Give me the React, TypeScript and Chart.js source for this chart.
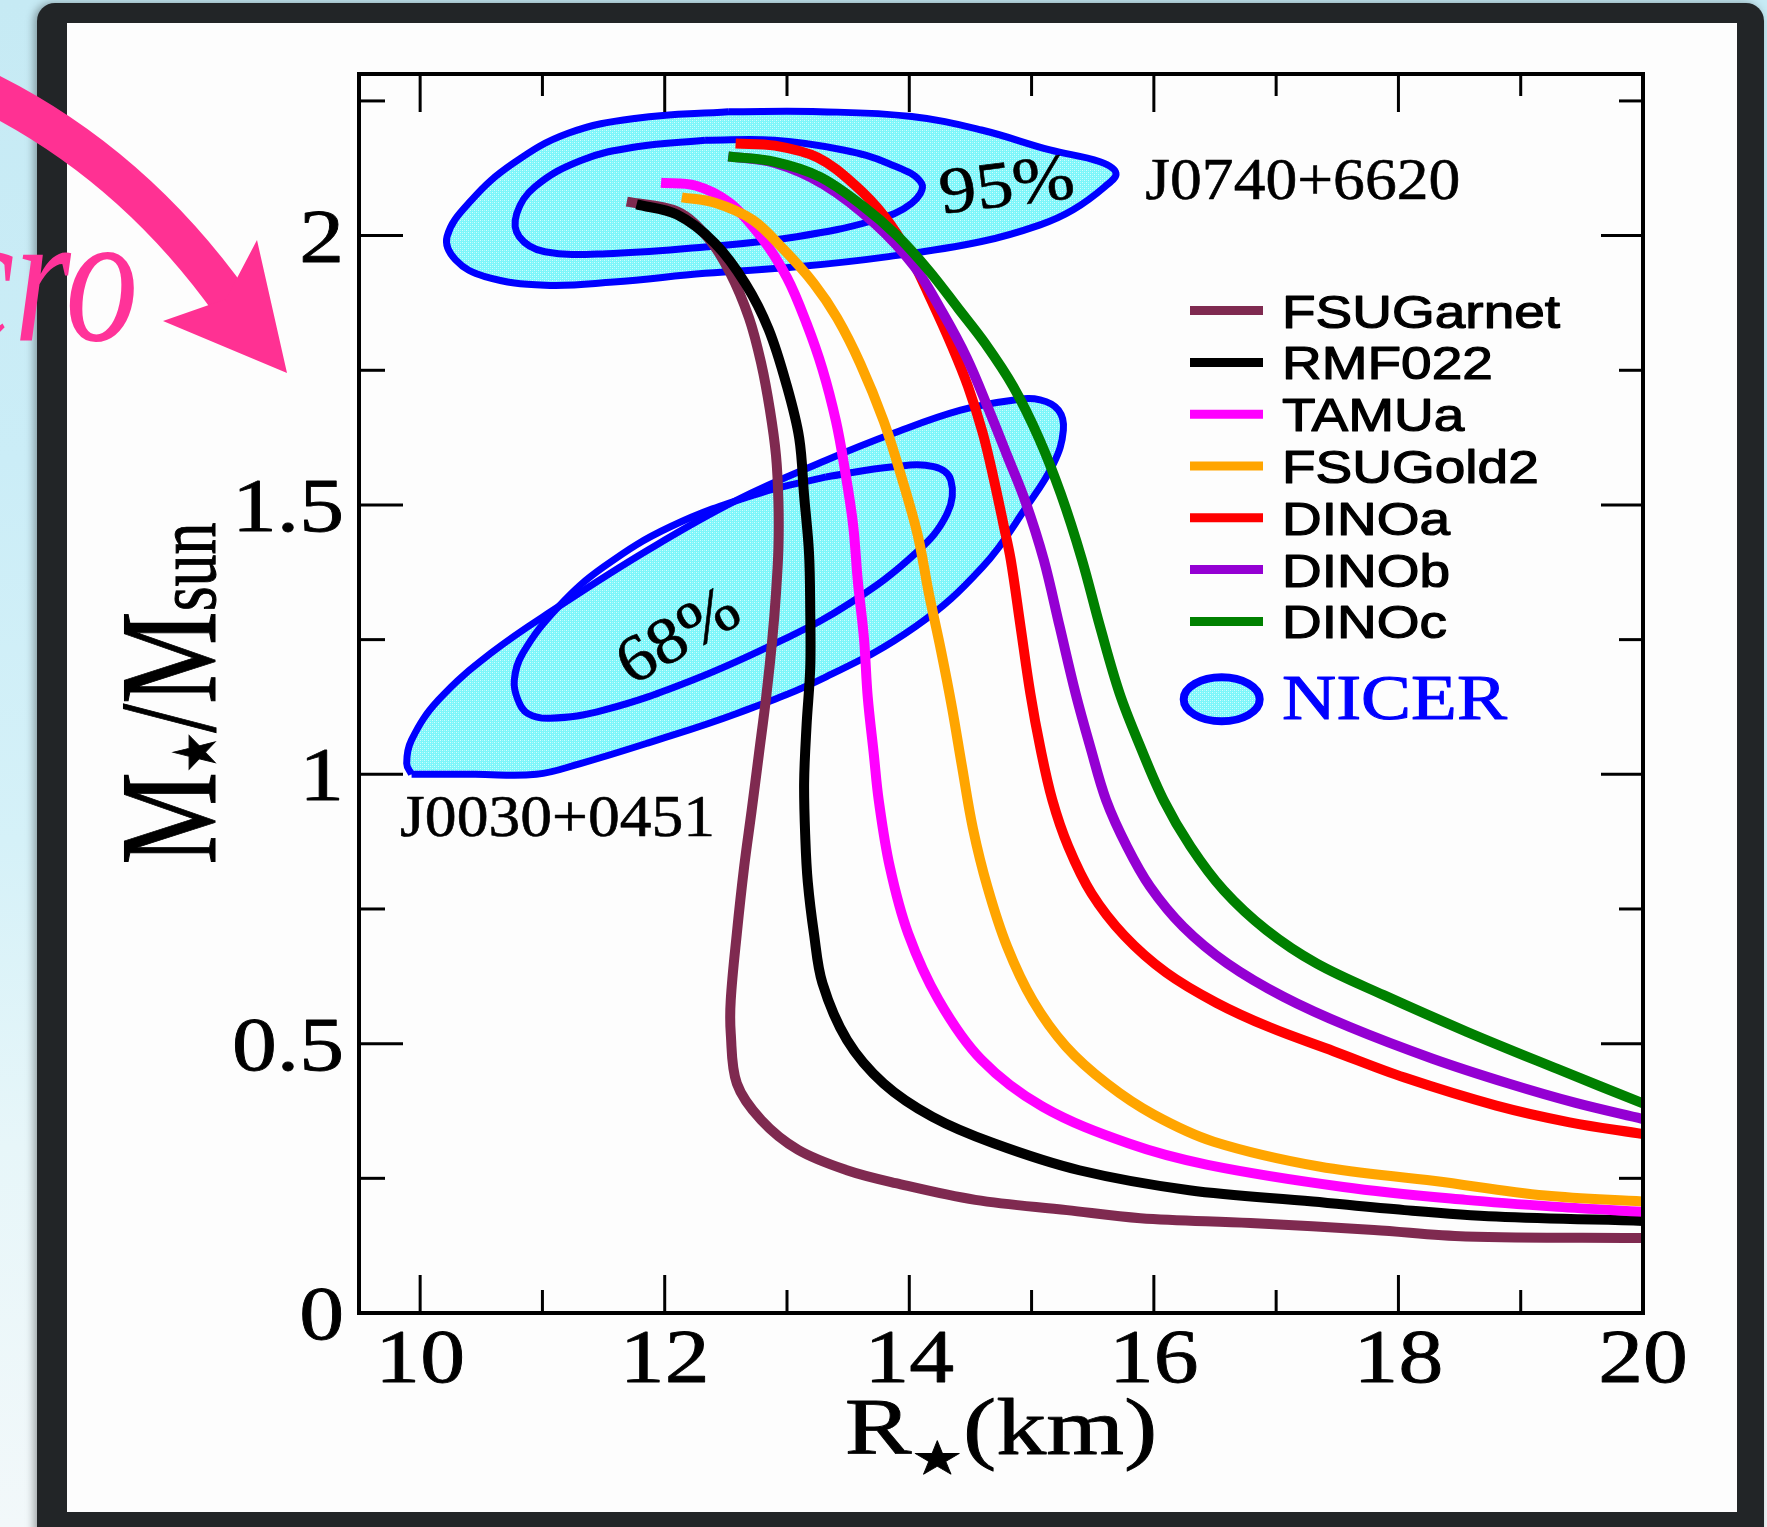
import React, { useEffect, useRef } from "react";
import { Chart, registerables } from "chart.js";

Chart.register(...registerables);

type P = [number, number];

// ---------- data (R in km, M in solar masses) ----------
const seriesNames = ["FSUGarnet", "RMF022", "TAMUa", "FSUGold2", "DINOa", "DINOb", "DINOc"];
const seriesColors = ["#7f2a50", "#000000", "#ff00ff", "#ffa500", "#ff0000", "#9400d3", "#008000"];

const FSUGarnet: P[] = [
  [11.69, 2.063], [12.10, 2.045], [12.35, 1.997], [12.53, 1.933], [12.69, 1.847], [12.79, 1.762],
  [12.86, 1.677], [12.91, 1.592], [12.93, 1.506], [12.93, 1.421], [12.91, 1.336], [12.88, 1.251],
  [12.83, 1.144], [12.77, 1.037], [12.71, 0.931], [12.65, 0.829], [12.59, 0.705], [12.54, 0.581],
  [12.54, 0.519], [12.59, 0.426], [12.79, 0.358], [13.09, 0.303], [13.49, 0.265], [13.89, 0.241],
  [14.54, 0.210], [15.29, 0.191], [15.89, 0.176], [16.79, 0.167], [17.80, 0.154], [18.55, 0.142],
  [20.0, 0.139],
];
const RMF022: P[] = [
  [11.77, 2.058], [12.10, 2.039], [12.41, 1.986], [12.66, 1.911], [12.85, 1.826], [13.00, 1.720],
  [13.10, 1.624], [13.14, 1.517], [13.18, 1.411], [13.19, 1.304], [13.19, 1.198], [13.16, 1.091],
  [13.14, 0.984], [13.15, 0.880], [13.17, 0.800], [13.22, 0.705], [13.29, 0.612], [13.49, 0.507],
  [13.79, 0.426], [14.19, 0.364], [14.69, 0.315], [15.39, 0.265], [16.29, 0.228], [17.30, 0.207],
  [18.05, 0.191], [18.80, 0.179], [20.0, 0.171],
];
const TAMUa: P[] = [
  [11.97, 2.098], [12.25, 2.093], [12.53, 2.061], [12.79, 1.997], [13.00, 1.922], [13.16, 1.837],
  [13.29, 1.752], [13.40, 1.656], [13.47, 1.570], [13.54, 1.464], [13.58, 1.357], [13.63, 1.251],
  [13.66, 1.144], [13.71, 1.037], [13.75, 0.952], [13.84, 0.829], [13.99, 0.705], [14.24, 0.581],
  [14.59, 0.470], [15.09, 0.383], [15.79, 0.315], [16.44, 0.275], [17.55, 0.234], [18.55, 0.210],
  [19.30, 0.197], [20.0, 0.188],
];
const FSUGold2: P[] = [
  [12.14, 2.071], [12.41, 2.061], [12.72, 2.029], [12.97, 1.975], [13.22, 1.911], [13.41, 1.847],
  [13.60, 1.762], [13.79, 1.656], [13.94, 1.549], [14.07, 1.443], [14.16, 1.336], [14.26, 1.229],
  [14.35, 1.123], [14.43, 1.016], [14.52, 0.900], [14.64, 0.790], [14.80, 0.680], [15.01, 0.580],
  [15.28, 0.495], [15.62, 0.425], [16.00, 0.368], [16.49, 0.318], [17.35, 0.272], [18.30, 0.245],
  [19.20, 0.218], [20.0, 0.207],
];
const DINOa: P[] = [
  [12.58, 2.171], [12.90, 2.167], [13.25, 2.145], [13.55, 2.095], [13.80, 2.035], [14.00, 1.965],
  [14.18, 1.880], [14.35, 1.794], [14.48, 1.720], [14.60, 1.634], [14.69, 1.549], [14.77, 1.464],
  [14.83, 1.398], [14.91, 1.274], [14.99, 1.150], [15.07, 1.051], [15.17, 0.952], [15.30, 0.866],
  [15.49, 0.779], [15.76, 0.700], [16.10, 0.632], [16.51, 0.576], [16.95, 0.530], [17.47, 0.486],
  [18.05, 0.437], [18.80, 0.385], [19.40, 0.354], [20.0, 0.332],
];
const DINOb: P[] = [
  [12.52, 2.147], [12.90, 2.135], [13.30, 2.095], [13.72, 2.022], [14.04, 1.943], [14.27, 1.858],
  [14.47, 1.773], [14.65, 1.677], [14.80, 1.592], [14.95, 1.506], [15.10, 1.398], [15.23, 1.274],
  [15.36, 1.150], [15.48, 1.051], [15.61, 0.952], [15.78, 0.866], [15.97, 0.791], [16.24, 0.717],
  [16.60, 0.649], [17.06, 0.587], [17.60, 0.531], [18.28, 0.472], [18.90, 0.426], [19.45, 0.390],
  [20.0, 0.360],
];
const DINOc: P[] = [
  [12.52, 2.147], [12.90, 2.137], [13.27, 2.109], [13.62, 2.055], [13.90, 2.000], [14.16, 1.935],
  [14.40, 1.865], [14.62, 1.800], [14.85, 1.720], [15.06, 1.624], [15.24, 1.520], [15.41, 1.400],
  [15.56, 1.274], [15.72, 1.150], [15.89, 1.051], [16.08, 0.952], [16.30, 0.866], [16.57, 0.785],
  [16.92, 0.711], [17.33, 0.649], [17.88, 0.590], [18.56, 0.522], [19.30, 0.453], [20.0, 0.389],
];
const seriesData: P[][] = [FSUGarnet, RMF022, TAMUa, FSUGold2, DINOa, DINOb, DINOc];

// NICER contours
const J0740_outer: P[] = [
  [12.52, 2.230], [13.27, 2.230], [14.02, 2.221], [14.59, 2.196], [15.15, 2.159], [15.56, 2.137],
  [15.69, 2.116], [15.60, 2.091], [15.34, 2.048], [15.07, 2.020], [14.59, 1.989], [13.83, 1.961],
  [13.08, 1.942], [12.33, 1.930], [11.58, 1.914], [11.02, 1.908], [10.53, 1.924], [10.29, 1.955],
  [10.22, 1.998], [10.42, 2.066], [10.76, 2.134], [11.21, 2.190], [11.77, 2.218], [12.52, 2.230],
];
const J0740_inner: P[] = [
  [12.33, 2.177], [12.90, 2.177], [13.46, 2.159], [13.83, 2.134], [14.10, 2.097], [14.02, 2.060],
  [13.72, 2.029], [13.08, 1.998], [12.33, 1.979], [11.58, 1.967], [11.02, 1.970], [10.81, 1.998],
  [10.79, 2.041], [10.94, 2.091], [11.32, 2.140], [11.77, 2.165], [12.33, 2.177],
];
const J0030_outer: P[] = [
  [9.93, 1.0], [10.45, 1.0], [10.95, 1.0], [11.31, 1.020], [11.86, 1.058], [12.59, 1.113],
  [13.32, 1.181], [14.05, 1.274], [14.60, 1.385], [14.96, 1.497], [15.18, 1.577], [15.26, 1.639],
  [15.22, 1.676], [15.07, 1.695], [14.86, 1.695], [14.42, 1.676], [13.87, 1.633], [13.32, 1.583],
  [12.59, 1.509], [11.86, 1.416], [11.13, 1.311], [10.58, 1.225], [10.15, 1.138], [9.93, 1.064],
  [9.89, 1.020], [9.93, 1.0],
];
const J0030_inner: P[] = [
  [13.32, 1.552], [12.78, 1.522], [12.05, 1.460], [11.50, 1.385], [11.13, 1.311], [10.84, 1.225],
  [10.77, 1.175], [10.80, 1.138], [10.88, 1.113], [11.06, 1.104], [11.50, 1.119], [12.23, 1.175],
  [12.96, 1.249], [13.51, 1.317], [14.05, 1.410], [14.31, 1.484], [14.34, 1.546], [14.20, 1.571],
  [13.87, 1.571], [13.32, 1.552],
];
const contourData: P[][] = [J0740_outer, J0740_inner, J0030_outer, J0030_inner];
const contourFilled = [true, false, true, false];

// axes
const xMin = 9.5, xMax = 20, yMin = 0, yMax = 2.3;
const xMajorTicks = [10, 12, 14, 16, 18, 20];
const xMinorTicks = [11, 13, 15, 17, 19];
const xTickLabels = ["10", "12", "14", "16", "18", "20"];
const yMajorTicks = [0, 0.5, 1, 1.5, 2];
const yMinorTicks = [0.25, 0.75, 1.25, 1.75, 2.25];
const yTickLabels = ["0", "0.5", "1", "1.5", "2"];

// annotations (data coordinates)
const annotations = [
  { text: "95%", x: 14.80, y: 2.088, size: 66, rot: -7, sx: 1.12, align: "center" },
  { text: "68%", x: 12.12, y: 1.252, size: 66, rot: -30, sx: 1.08, align: "center" },
  { text: "J0740+6620", x: 15.93, y: 2.068, size: 60, rot: 0, sx: 1.06, align: "left" },
  { text: "J0030+0451", x: 9.836, y: 0.885, size: 60, rot: 0, sx: 1.06, align: "left" },
];

const SERIF = '"Liberation Serif", "Times New Roman", serif';
const SANS = '"Liberation Sans", Arial, sans-serif';
const SYM = '"DejaVu Sans", sans-serif';

function makePattern(ctx: CanvasRenderingContext2D) {
  const c = document.createElement("canvas");
  c.width = 4;
  c.height = 4;
  const g = c.getContext("2d")!;
  g.fillStyle = "#7cf6fa";
  g.fillRect(0, 0, 4, 4);
  g.fillStyle = "#d6fdfd";
  g.fillRect(0, 0, 1, 1);
  g.fillRect(2, 2, 1, 1);
  g.fillStyle = "#a9f9fb";
  g.fillRect(2, 0, 1, 1);
  g.fillRect(0, 2, 1, 1);
  return ctx.createPattern(c, "repeat")!;
}

function stretchedText(
  ctx: CanvasRenderingContext2D, text: string, x: number, y: number, font: string,
  color: string, align: CanvasTextAlign, sx: number, rotDeg = 0,
  baseline: CanvasTextBaseline = "alphabetic", bold = 0
) {
  ctx.save();
  ctx.translate(x, y);
  if (rotDeg) ctx.rotate((rotDeg * Math.PI) / 180);
  ctx.scale(sx, 1);
  ctx.font = font;
  ctx.fillStyle = color;
  ctx.textAlign = align;
  ctx.textBaseline = baseline;
  ctx.fillText(text, 0, 0);
  if (bold > 0) {
    ctx.strokeStyle = color;
    ctx.lineWidth = bold;
    ctx.lineJoin = "round";
    ctx.strokeText(text, 0, 0);
  }
  ctx.restore();
}

const contourFillPlugin = {
  id: "contourFill",
  beforeDatasetsDraw(chart: any) {
    const ctx: CanvasRenderingContext2D = chart.ctx;
    const a = chart.chartArea;
    const pat = makePattern(ctx);
    chart.data.datasets.forEach((ds: any, i: number) => {
      if (!ds.nicerFill) return;
      const meta = chart.getDatasetMeta(i);
      const line = meta.dataset;
      ctx.save();
      ctx.beginPath();
      ctx.rect(a.left, a.top, a.right - a.left, a.bottom - a.top);
      ctx.clip();
      ctx.beginPath();
      if (line && typeof line.path === "function") {
        if (typeof line.updateControlPoints === "function") line.updateControlPoints(a, "x");
        line.path(ctx);
      } else {
        meta.data.forEach((pt: any, k: number) => (k ? ctx.lineTo(pt.x, pt.y) : ctx.moveTo(pt.x, pt.y)));
      }
      ctx.closePath();
      ctx.fillStyle = pat;
      ctx.fill();
      ctx.restore();
    });
  },
};

const decorPlugin = {
  id: "decor",
  afterDatasetsDraw(chart: any) {
    const ctx: CanvasRenderingContext2D = chart.ctx;
    const a = chart.chartArea;
    const xs = chart.scales.x;
    const ys = chart.scales.y;
    ctx.save();

    // annotations
    annotations.forEach((an) => {
      stretchedText(ctx, an.text, xs.getPixelForValue(an.x), ys.getPixelForValue(an.y),
        `${an.size}px ${SERIF}`, "#000", an.align as CanvasTextAlign, an.sx, an.rot,
        an.align === "center" ? "middle" : "alphabetic", 0.6);
    });

    // frame
    ctx.strokeStyle = "#000";
    ctx.lineWidth = 4;
    ctx.strokeRect(a.left, a.top, a.right - a.left, a.bottom - a.top);

    // ticks (inward, on all four sides)
    ctx.lineWidth = 3;
    const seg = (x1: number, y1: number, x2: number, y2: number) => {
      ctx.beginPath();
      ctx.moveTo(x1, y1);
      ctx.lineTo(x2, y2);
      ctx.stroke();
    };
    xMajorTicks.forEach((v) => {
      const p = xs.getPixelForValue(v);
      seg(p, a.bottom, p, a.bottom - 38);
      seg(p, a.top, p, a.top + 38);
    });
    xMinorTicks.forEach((v) => {
      const p = xs.getPixelForValue(v);
      seg(p, a.bottom, p, a.bottom - 23);
      seg(p, a.top, p, a.top + 22);
    });
    yMajorTicks.forEach((v) => {
      const p = ys.getPixelForValue(v);
      seg(a.left, p, a.left + 44, p);
      seg(a.right, p, a.right - 42, p);
    });
    yMinorTicks.forEach((v) => {
      const p = ys.getPixelForValue(v);
      seg(a.left, p, a.left + 26, p);
      seg(a.right, p, a.right - 24, p);
    });

    // tick labels
    const tickFont = `76px ${SERIF}`;
    xMajorTicks.forEach((v, i) => {
      stretchedText(ctx, xTickLabels[i], xs.getPixelForValue(v), a.bottom + 69, tickFont, "#000", "center", 1.18, 0, "alphabetic", 0.8);
    });
    yMajorTicks.forEach((v, i) => {
      stretchedText(ctx, yTickLabels[i], a.left - 15, ys.getPixelForValue(v) + 26, tickFont, "#000", "right", 1.18, 0, "alphabetic", 0.8);
    });

    // x title: R★(km)
    {
      const sx = 1.25;
      const parts = [
        { t: "R", f: `80px ${SERIF}`, dy: 0 },
        { t: "★", f: `46px ${SYM}`, dy: 20 },
        { t: "(km)", f: `80px ${SERIF}`, dy: 0 },
      ];
      const widths = parts.map((p) => {
        ctx.font = p.f;
        return ctx.measureText(p.t).width * sx;
      });
      const total = widths.reduce((s, w) => s + w, 0);
      let x = (a.left + a.right) / 2 - total / 2;
      const base = a.bottom + 141;
      parts.forEach((p, i) => {
        stretchedText(ctx, p.t, x, base + p.dy, p.f, "#000", "left", sx, 0, "alphabetic", 0.8);
        x += widths[i];
      });
    }

    // y title: M★/Msun (rotated)
    {
      const sy = 1.32;
      const parts = [
        { t: "M", f: `104px ${SERIF}` },
        { t: "★", f: `44px ${SYM}` },
        { t: "/", f: `104px ${SERIF}` },
        { t: "M", f: `104px ${SERIF}` },
        { t: "sun", f: `64px ${SERIF}` },
      ];
      const widths = parts.map((p) => {
        ctx.font = p.f;
        return ctx.measureText(p.t).width;
      });
      const total = widths.reduce((s, w) => s + w, 0);
      ctx.save();
      ctx.translate(a.left - 144, (a.top + a.bottom) / 2);
      ctx.rotate(-Math.PI / 2);
      ctx.scale(1, sy);
      ctx.fillStyle = "#000";
      ctx.strokeStyle = "#000";
      ctx.lineWidth = 0.8;
      ctx.textAlign = "left";
      ctx.textBaseline = "alphabetic";
      let x = -total / 2;
      parts.forEach((p, i) => {
        ctx.font = p.f;
        ctx.fillText(p.t, x, 0);
        ctx.strokeText(p.t, x, 0);
        x += widths[i];
      });
      ctx.restore();
    }

    // legend
    const lx = a.left + 831;
    const ly = a.top + 236.6;
    const step = 51.8;
    seriesNames.forEach((name, i) => {
      const cy = ly + i * step;
      ctx.strokeStyle = seriesColors[i];
      ctx.lineWidth = 9;
      seg(lx, cy, lx + 73, cy);
      stretchedText(ctx, name, lx + 92, cy + 17, `47px ${SANS}`, "#000", "left", 1.17, 0, "alphabetic", 1.2);
    });
    {
      const cx = lx + 31.7;
      const cy = ly + 388.7;
      ctx.beginPath();
      ctx.ellipse(cx, cy, 38, 22, 0, 0, Math.PI * 2);
      ctx.fillStyle = makePattern(ctx);
      ctx.fill();
      ctx.strokeStyle = "#0000ff";
      ctx.lineWidth = 8;
      ctx.stroke();
      stretchedText(ctx, "NICER", lx + 92, cy + 20, `63px ${SERIF}`, "#0000ff", "left", 1.19, 0, "alphabetic", 1);
    }

    ctx.restore();
  },
};

function MRChart() {
  const ref = useRef<HTMLCanvasElement | null>(null);
  useEffect(() => {
    if (!ref.current) return;
    const curveSets = seriesData.map((pts, i) => ({
      label: seriesNames[i],
      data: pts.map(([x, y]) => ({ x, y })),
      borderColor: seriesColors[i],
      backgroundColor: seriesColors[i],
      borderWidth: 10,
      pointRadius: 0,
      pointHoverRadius: 0,
      tension: 0.35,
      fill: false,
      clip: 0,
      borderJoinStyle: "round",
      order: 10 - i,
    }));
    const contourSets = contourData.map((pts, i) => ({
      label: "NICER " + i,
      data: pts.map(([x, y]) => ({ x, y })),
      borderColor: "#0000ff",
      backgroundColor: "#0000ff",
      borderWidth: 7,
      pointRadius: 0,
      pointHoverRadius: 0,
      tension: 0.4,
      fill: false,
      clip: 0,
      borderJoinStyle: "round",
      order: 30 + i,
      nicerFill: contourFilled[i],
    }));
    const chart = new Chart(ref.current, {
      type: "line",
      data: { datasets: [...curveSets, ...contourSets] as any },
      options: {
        responsive: false,
        animation: false,
        devicePixelRatio: 1,
        events: [],
        layout: { padding: { left: 359, right: 124, top: 74, bottom: 214 } },
        plugins: { legend: { display: false }, tooltip: { enabled: false }, title: { display: false } },
        scales: {
          x: { type: "linear", min: xMin, max: xMax, display: false },
          y: { type: "linear", min: yMin, max: yMax, display: false },
        },
      } as any,
      plugins: [contourFillPlugin, decorPlugin],
    });
    return () => chart.destroy();
  }, []);
  return (
    <canvas
      ref={ref}
      width={1767}
      height={1527}
      style={{ position: "absolute", left: 0, top: 0, width: 1767, height: 1527 }}
    />
  );
}

export default function App() {
  return (
    <div
      style={{
        position: "fixed",
        left: 0,
        top: 0,
        width: 1767,
        height: 1527,
        overflow: "hidden",
        background: "linear-gradient(180deg, #c6eaf4 0%, #cbedf7 30%, #d5f1f8 55%, #e7f6f9 75%, #f2f8fa 100%)",
      }}
    >
      <div
        style={{
          position: "absolute",
          left: 37,
          top: 3,
          width: 1727,
          height: 1560,
          background: "#222527",
          borderRadius: 18,
          boxShadow: "-3px 0 8px rgba(0,0,0,0.35)",
        }}
      />
      <div
        style={{
          position: "absolute",
          left: 67,
          top: 23,
          width: 1670,
          height: 1489,
          background: "#fdfdfd",
        }}
      />
      <MRChart />
      <svg
        width={1767}
        height={1527}
        style={{ position: "absolute", left: 0, top: 0, pointerEvents: "none" }}
      >
        <path d="M -25 86 Q 128 158 232 304" stroke="#ff3193" strokeWidth={40} fill="none" />
        <polygon points="287,373 163,321 226,299 257,240" fill="#ff3193" />
        <text
          transform="translate(138,340) scale(0.88,1.13)"
          textAnchor="end"
          fontFamily='"Liberation Serif", serif'
          fontStyle="italic"
          fontSize={165}
          fill="#ff3399"
        >
          cro
        </text>
      </svg>
    </div>
  );
}
